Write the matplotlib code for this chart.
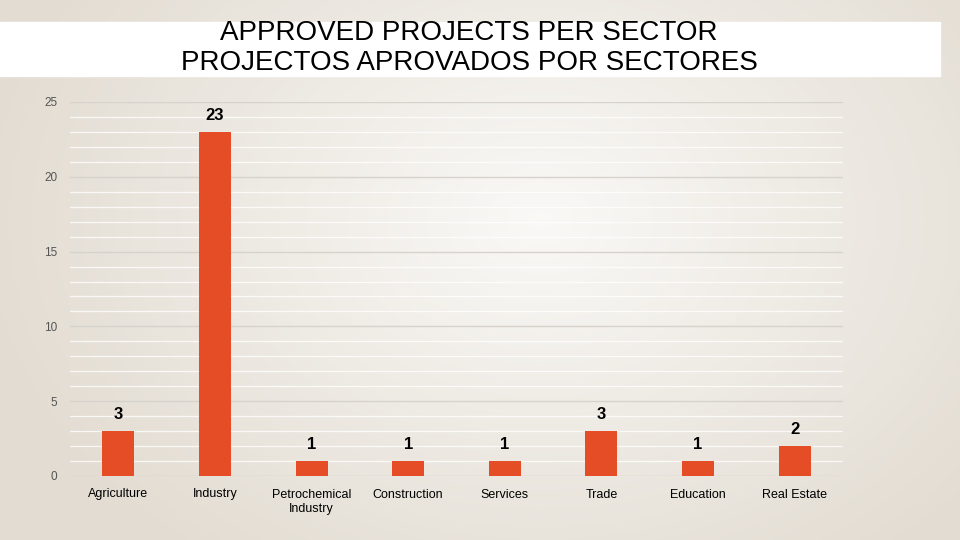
import matplotlib.pyplot as plt
import numpy as np
from matplotlib.patches import Rectangle
from matplotlib.ticker import MultipleLocator

sectors = ["Agriculture", "Industry", "Petrochemical\nIndustry", "Construction",
           "Services", "Trade", "Education", "Real Estate"]
projects = [3, 23, 1, 1, 1, 3, 1, 2]
title = "APPROVED PROJECTS PER SECTOR\nPROJECTOS APROVADOS POR SECTORES"

plt.rcParams["font.family"] = ["Liberation Sans", "DejaVu Sans"]

fig = plt.figure(figsize=(9.6, 5.4), dpi=100)

# radial gradient background
bg = fig.add_axes([0, 0, 1, 1], zorder=-10)
yy, xx = np.mgrid[0:540, 0:960]
r = np.sqrt(((xx - 540) / 560.0) ** 2 + ((yy - 220) / 420.0) ** 2)
r = np.clip(r, 0, 1)
c_in = np.array([0.978, 0.975, 0.965])
c_out = np.array([0.89, 0.865, 0.825])
img = c_in[None, None, :] * (1 - r[..., None]) + c_out[None, None, :] * r[..., None]
bg.imshow(img, aspect="auto", extent=[0, 1, 0, 1], origin="upper")
bg.axis("off")

# white title band
fig.patches.append(Rectangle((0, 1 - 76 / 540), 940 / 960, 54 / 540,
                             transform=fig.transFigure, color="white", zorder=-5))
fig.text(469 / 960, 1 - 48 / 540, title, ha="center", va="center",
         fontsize=20, linespacing=1.25, color="black")

ax = fig.add_axes([70 / 960, 64 / 540, 773 / 960, 374 / 540])
ax.patch.set_alpha(0)
x = np.arange(len(sectors))
ax.bar(x, projects, width=0.33, color="#e44d26", zorder=3)
for xi, v in zip(x, projects):
    ax.text(xi, v + 0.6, str(v), ha="center", va="bottom",
            fontsize=12, fontweight="bold", color="black")

ax.set_xlim(-0.5, len(sectors) - 0.5)
ax.set_ylim(0, 25)
ax.yaxis.set_major_locator(MultipleLocator(5))
ax.yaxis.set_minor_locator(MultipleLocator(1))
ax.grid(axis="y", which="minor", color="white", linewidth=0.9, alpha=0.8, zorder=1)
ax.grid(axis="y", which="major", color="#d6d2cc", linewidth=1.0, zorder=2)
ax.set_xticks(x)
ax.set_xticklabels(sectors, fontsize=9, color="black", linespacing=1.25)
ax.tick_params(axis="x", length=0, pad=9)
ax.tick_params(axis="y", which="both", length=0, labelsize=8.5,
               labelcolor="#555555", pad=9)
for s in ax.spines.values():
    s.set_visible(False)

fig.savefig("out.png", dpi=100)
